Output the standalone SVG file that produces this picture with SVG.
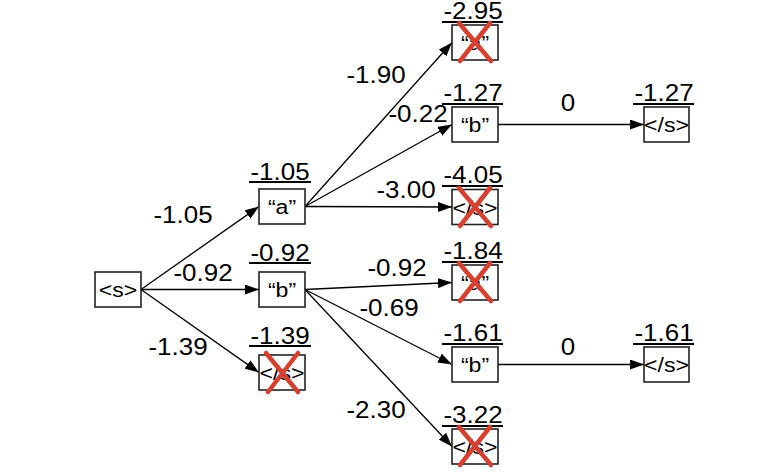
<svg xmlns="http://www.w3.org/2000/svg" width="762" height="472" viewBox="0 0 762 472">
  <style>
    .box { fill: #ffffff; stroke: #222222; stroke-width: 1.6; }
    .node { font-family: "Liberation Sans", Arial, sans-serif; font-size: 21px; fill: #000; text-anchor: middle; }
    .score { font-family: "Liberation Sans", Arial, sans-serif; font-size: 23px; fill: #000; text-anchor: middle; }
    .uline { stroke: #000; stroke-width: 2; }
    .edge { stroke: #000; stroke-width: 1.3; fill: none; marker-end: url(#head); }
    .elabel { font-family: "Liberation Sans", Arial, sans-serif; font-size: 23px; fill: #000; text-anchor: middle; }
    .cross { stroke: #d6402f; stroke-width: 4.5; stroke-linecap: round; fill: none; }
  </style>
  <defs>
    <marker id="head" markerUnits="userSpaceOnUse" markerWidth="15" markerHeight="10" refX="14" refY="5" orient="auto">
      <path d="M0,0 L14,5 L0,10 Z" fill="#000"/>
    </marker>
  </defs>
  <rect width="762" height="472" fill="#ffffff"/>

  <!-- connectors -->
  <g id="connectors">
    <line class="edge" x1="141" y1="289.5" x2="259" y2="206.5"/>
    <line class="edge" x1="141" y1="289.5" x2="259" y2="289.5"/>
    <line class="edge" x1="141" y1="289.5" x2="259" y2="372.5"/>
    <line class="edge" x1="305" y1="206.5" x2="452" y2="42.5"/>
    <line class="edge" x1="305" y1="206.5" x2="452" y2="124.5"/>
    <line class="edge" x1="305" y1="206.5" x2="452" y2="207"/>
    <line class="edge" x1="305" y1="289.5" x2="452" y2="282.5"/>
    <line class="edge" x1="305" y1="289.5" x2="452" y2="364.5"/>
    <line class="edge" x1="305" y1="289.5" x2="452" y2="446.5"/>
    <line class="edge" x1="498" y1="124.5" x2="644" y2="124.5"/>
    <line class="edge" x1="498" y1="364.5" x2="644" y2="364.5"/>

    <text class="elabel" transform="translate(183 223) scale(1.13 1)">-1.05</text>
    <text class="elabel" transform="translate(203 281) scale(1.13 1)">-0.92</text>
    <text class="elabel" transform="translate(178 355) scale(1.13 1)">-1.39</text>
    <text class="elabel" transform="translate(376 83) scale(1.13 1)">-1.90</text>
    <text class="elabel" transform="translate(418 122) scale(1.13 1)">-0.22</text>
    <text class="elabel" transform="translate(406 198) scale(1.13 1)">-3.00</text>
    <text class="elabel" transform="translate(397 276) scale(1.13 1)">-0.92</text>
    <text class="elabel" transform="translate(389 316) scale(1.13 1)">-0.69</text>
    <text class="elabel" transform="translate(376 418) scale(1.13 1)">-2.30</text>
    <text class="elabel" transform="translate(568 111) scale(1.13 1)">0</text>
    <text class="elabel" transform="translate(568 355) scale(1.13 1)">0</text>
  </g>

  <!-- start symbol -->
  <g id="n-start">
    <rect class="box" x="95" y="272" width="46" height="35"/>
    <text class="node" transform="translate(118 297) scale(1.1 1)">&lt;s&gt;</text>
  </g>

  <!-- second column -->
  <g id="n-a1">
    <text class="score" transform="translate(280 180) scale(1.13 1)">-1.05</text>
    <line class="uline" x1="249" y1="182" x2="311" y2="182"/>
    <rect class="box" x="259" y="189" width="46" height="35"/>
    <text class="node" transform="translate(282 214) scale(1.1 1)">“a”</text>
  </g>
  <g id="n-b1">
    <text class="score" transform="translate(280 261) scale(1.13 1)">-0.92</text>
    <line class="uline" x1="249" y1="263" x2="311" y2="263"/>
    <rect class="box" x="259" y="272" width="46" height="35"/>
    <text class="node" transform="translate(282 297) scale(1.1 1)">“b”</text>
  </g>
  <g id="n-end1">
    <text class="score" transform="translate(280 344) scale(1.13 1)">-1.39</text>
    <line class="uline" x1="249" y1="346" x2="311" y2="346"/>
    <rect class="box" x="259" y="355" width="46" height="35"/>
    <text class="node" transform="translate(282 380) scale(1.1 1)">&lt;/s&gt;</text>
    <path class="cross" d="M266,353 L298,392 M298,353 L268,392"/>
  </g>

  <!-- third column -->
  <g id="n-aa">
    <text class="score" transform="translate(473 19) scale(1.13 1)">-2.95</text>
    <line class="uline" x1="442" y1="22" x2="503" y2="22"/>
    <rect class="box" x="452" y="25" width="46" height="35"/>
    <text class="node" transform="translate(475 50) scale(1.1 1)">“a”</text>
    <path class="cross" d="M459,23 L491,61 M490,23 L460,61"/>
  </g>
  <g id="n-ab">
    <text class="score" transform="translate(473 101) scale(1.13 1)">-1.27</text>
    <line class="uline" x1="442" y1="104" x2="503" y2="104"/>
    <rect class="box" x="452" y="107" width="46" height="35"/>
    <text class="node" transform="translate(475 132) scale(1.1 1)">“b”</text>
  </g>
  <g id="n-aend">
    <text class="score" transform="translate(473 183) scale(1.13 1)">-4.05</text>
    <line class="uline" x1="442" y1="186" x2="503" y2="186"/>
    <rect class="box" x="452" y="189.5" width="46" height="35"/>
    <text class="node" transform="translate(475 214.5) scale(1.1 1)">&lt;/s&gt;</text>
    <path class="cross" d="M459,188 L491,226 M490,188 L460,226"/>
  </g>
  <g id="n-ba">
    <text class="score" transform="translate(473 259) scale(1.13 1)">-1.84</text>
    <line class="uline" x1="442" y1="262" x2="503" y2="262"/>
    <rect class="box" x="452" y="265" width="46" height="35"/>
    <text class="node" transform="translate(475 290) scale(1.1 1)">“a”</text>
    <path class="cross" d="M459,263 L491,301 M490,263 L460,301"/>
  </g>
  <g id="n-bb">
    <text class="score" transform="translate(473 341) scale(1.13 1)">-1.61</text>
    <line class="uline" x1="442" y1="344" x2="503" y2="344"/>
    <rect class="box" x="452" y="347" width="46" height="35"/>
    <text class="node" transform="translate(475 372) scale(1.1 1)">“b”</text>
  </g>
  <g id="n-bend">
    <text class="score" transform="translate(473 423) scale(1.13 1)">-3.22</text>
    <line class="uline" x1="442" y1="426" x2="503" y2="426"/>
    <rect class="box" x="452" y="429" width="46" height="35"/>
    <text class="node" transform="translate(475 454) scale(1.1 1)">&lt;/s&gt;</text>
    <path class="cross" d="M459,427 L491,465 M490,427 L460,465"/>
  </g>

  <!-- fourth column -->
  <g id="n-abend">
    <text class="score" transform="translate(664 101) scale(1.13 1)">-1.27</text>
    <line class="uline" x1="633" y1="104" x2="694" y2="104"/>
    <rect class="box" x="644" y="107" width="45" height="35"/>
    <text class="node" transform="translate(666.5 132) scale(1.1 1)">&lt;/s&gt;</text>
  </g>
  <g id="n-bbend">
    <text class="score" transform="translate(664 341) scale(1.13 1)">-1.61</text>
    <line class="uline" x1="633" y1="344" x2="694" y2="344"/>
    <rect class="box" x="644" y="347" width="45" height="35"/>
    <text class="node" transform="translate(666.5 372) scale(1.1 1)">&lt;/s&gt;</text>
  </g>
</svg>
